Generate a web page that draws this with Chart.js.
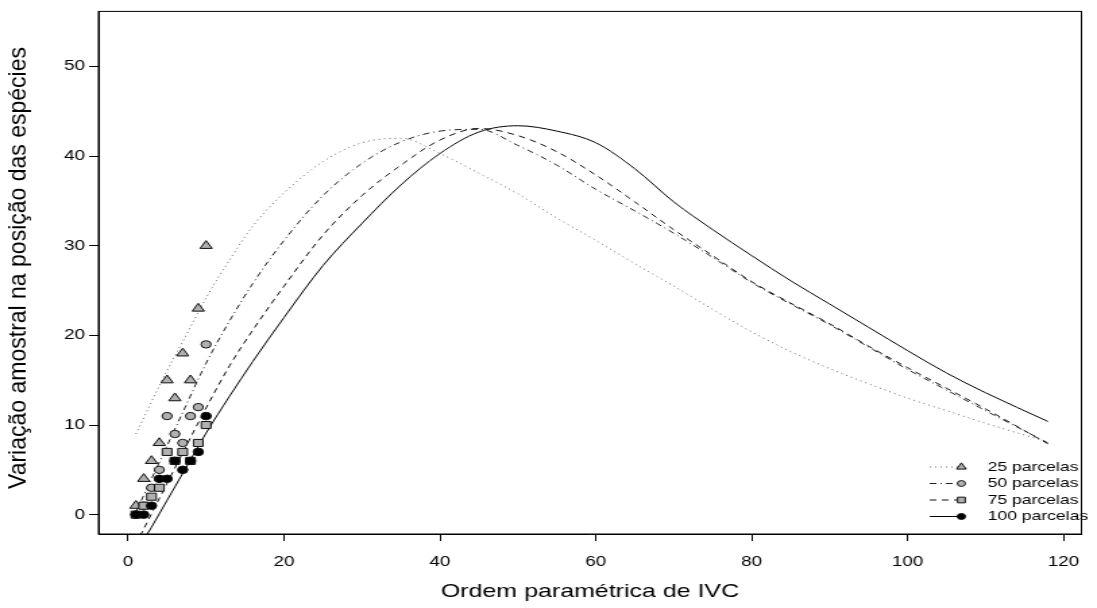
<!DOCTYPE html>
<html lang="pt">
<head>
<meta charset="UTF-8" />
<title>Variação amostral na posição das espécies</title>
<script src="https://cdn.jsdelivr.net/npm/chart.js"></script>
<style>
  html, body { margin: 0; padding: 0; background: #fff; overflow: hidden; }
  /* the original picture is stretched horizontally, so the canvas is too */
  #wrap { width: 813px; height: 608px; transform: scaleX(1.3493); transform-origin: 0 0; }
</style>
</head>
<body>
<div id="wrap"><canvas id="grafico" width="813" height="608"></canvas></div>
<script>
const seriesNames = ['25 parcelas', '50 parcelas', '75 parcelas', '100 parcelas'];
const xTitle = 'Ordem paramétrica de IVC';
const yTitle = 'Variação amostral na posição das espécies';
const xTicks = [0, 20, 40, 60, 80, 100, 120];
const yTicks = [0, 10, 20, 30, 40, 50];

// observed values (first 10 positions)
const pointX = [1, 2, 3, 4, 5, 6, 7, 8, 9, 10];
const obs25  = [1, 4, 6, 8, 15, 13, 18, 15, 23, 30];
const obs50  = [0, 1, 3, 5, 11, 9, 8, 11, 12, 19];
const obs75  = [0, 1, 2, 3, 7, 6, 7, 6, 8, 10];
const obs100 = [0, 0, 1, 4, 4, 6, 5, 6, 7, 11];

// smoothed curves
const curveX   = [1, 3, 5, 7, 10, 13, 16, 20, 25, 30, 35, 40, 45, 50, 55, 60, 65, 70, 75, 80, 85, 90, 95, 100, 105, 110, 118];
const curve25  = [9.0, 12.6, 16.1, 19.3, 24.2, 28.4, 32.2, 35.9, 39.4, 41.5, 42.0, 40.3, 38.1, 35.8, 33.1, 30.6, 28.0, 25.5, 22.9, 20.4, 18.2, 16.3, 14.6, 13.0, 11.6, 10.2, 8.1];
const curve50  = [0.3, 4.0, 7.7, 11.4, 16.9, 21.6, 25.8, 30.6, 35.6, 39.2, 41.6, 42.8, 43.0, 41.2, 39.0, 36.3, 33.9, 31.4, 28.7, 25.9, 23.5, 21.2, 18.7, 16.2, 13.9, 11.6, 8.0];
const curve75  = [-3.3, 0.1, 3.5, 6.9, 11.9, 16.6, 20.6, 25.5, 31.2, 35.6, 39.0, 41.8, 43.1, 42.3, 40.5, 37.9, 34.9, 31.8, 28.9, 26.0, 23.6, 21.3, 18.8, 16.4, 14.1, 11.8, 7.9];
const curve100 = [-4.2, -1.4, 1.6, 4.6, 9.1, 13.2, 17.1, 22.0, 27.8, 32.5, 36.8, 40.3, 42.7, 43.4, 42.8, 41.5, 38.6, 34.9, 31.8, 28.9, 26.1, 23.5, 20.9, 18.3, 15.8, 13.6, 10.4];

const FONT = '"Liberation Sans", Arial, Helvetica, sans-serif';
const toXY = (xs, ys) => xs.map((x, i) => ({ x: x, y: ys[i] }));

function lineSet(label, ys, color, dash, order) {
  return {
    label: label, data: toXY(curveX, ys), showLine: true, pointRadius: 0,
    borderColor: color, borderWidth: 1, borderDash: dash,
    cubicInterpolationMode: 'monotone', fill: false, order: order
  };
}
function pointSet(label, ys, style, radius, fillColor, order) {
  return {
    label: label, data: toXY(pointX, ys), showLine: false, pointStyle: style,
    pointRadius: radius, backgroundColor: fillColor, borderColor: '#111',
    borderWidth: 1, order: order
  };
}

const datasets = [
  lineSet(seriesNames[0], curve25, '#666', [1, 3], 13),
  lineSet(seriesNames[1], curve50, '#222', [5, 3, 1, 3], 12),
  lineSet(seriesNames[2], curve75, '#111', [5, 4], 11),
  lineSet(seriesNames[3], curve100, '#000', [], 10),
  pointSet(seriesNames[0], obs25, 'triangle', 5.2, '#b0b0b0', 3),
  pointSet(seriesNames[1], obs50, 'circle', 3.7, '#b0b0b0', 2),
  pointSet(seriesNames[2], obs75, 'rect', 5, '#b0b0b0', 1),
  pointSet(seriesNames[3], obs100, 'circle', 3.8, '#000', 0)
];

function marker(ctx, style, x, y, r, fill, stroke) {
  ctx.save();
  ctx.fillStyle = fill; ctx.strokeStyle = stroke; ctx.lineWidth = 1;
  ctx.beginPath();
  if (style === 'triangle') {
    ctx.moveTo(x, y - r);
    ctx.lineTo(x + r * 0.866, y + r * 0.5);
    ctx.lineTo(x - r * 0.866, y + r * 0.5);
    ctx.closePath();
  } else if (style === 'rect') {
    const s = r * Math.SQRT1_2;
    ctx.rect(x - s, y - s, 2 * s, 2 * s);
  } else {
    ctx.arc(x, y, r, 0, Math.PI * 2);
  }
  ctx.fill(); ctx.stroke();
  ctx.restore();
}

// frame around the plot region
const boxPlugin = {
  id: 'box',
  afterDatasetsDraw(chart) {
    const a = chart.chartArea, ctx = chart.ctx;
    ctx.save();
    ctx.strokeStyle = '#000'; ctx.lineWidth = 1;
    ctx.strokeRect(a.left, a.top, a.right - a.left, a.bottom - a.top);
    ctx.restore();
  }
};

// y title drawn by hand so it can be narrowed against the page stretch
const yTitlePlugin = {
  id: 'ytitle',
  afterDraw(chart) {
    const ctx = chart.ctx;
    ctx.save();
    ctx.translate(13.5, 268);
    ctx.rotate(-Math.PI / 2);
    ctx.scale(1, 0.8);
    ctx.font = '23px ' + FONT;
    ctx.fillStyle = '#000';
    ctx.textAlign = 'center'; ctx.textBaseline = 'middle';
    ctx.fillText(yTitle, 0, 0);
    ctx.restore();
  }
};

// R-style legend: line sample with marker at its right end
const legendPlugin = {
  id: 'rlegend',
  afterDraw(chart) {
    const ctx = chart.ctx;
    seriesNames.forEach((name, i) => {
      const ln = chart.data.datasets[i], pt = chart.data.datasets[i + 4];
      const y = 467 + i * 16.5;
      ctx.save();
      ctx.strokeStyle = ln.borderColor; ctx.lineWidth = 1;
      ctx.setLineDash(ln.borderDash);
      ctx.beginPath(); ctx.moveTo(689, y); ctx.lineTo(712.5, y); ctx.stroke();
      ctx.setLineDash([]);
      marker(ctx, pt.pointStyle, 712.5, y, pt.pointRadius * 0.8, pt.backgroundColor, pt.borderColor);
      ctx.fillStyle = '#000';
      ctx.font = '13px ' + FONT;
      ctx.textBaseline = 'middle'; ctx.textAlign = 'left';
      ctx.fillText(name, 732, y);
      ctx.restore();
    });
  }
};

new Chart(document.getElementById('grafico'), {
  type: 'scatter',
  data: { datasets: datasets },
  options: {
    responsive: false,
    animation: false,
    devicePixelRatio: 1,
    layout: { padding: { top: 10, right: 1.5, bottom: 0, left: 0 } },
    plugins: { legend: { display: false }, tooltip: { enabled: false } },
    scales: {
      x: {
        type: 'linear', min: -3.8, max: 122.3,
        afterBuildTicks: s => { s.ticks = xTicks.map(v => ({ value: v })); },
        afterFit: s => { s.height = 74; },
        ticks: { color: '#000', font: { size: 14, family: FONT }, padding: 13, maxRotation: 0, autoSkip: false },
        grid: { display: true, drawOnChartArea: false, drawTicks: true, tickLength: 7, color: '#000', tickColor: '#000' },
        border: { display: true, color: '#000', width: 1 },
        title: { display: true, text: xTitle, color: '#000',
                 font: { size: 18.5, family: FONT }, padding: { top: 0, bottom: 5 } }
      },
      y: {
        type: 'linear', min: -2.16, max: 56.16,
        afterBuildTicks: s => { s.ticks = yTicks.map(v => ({ value: v })); },
        afterFit: s => { s.width = 73; },
        ticks: { color: '#000', font: { size: 14, family: FONT }, padding: 3, autoSkip: false },
        grid: { display: true, drawOnChartArea: false, drawTicks: true, tickLength: 7, color: '#000', tickColor: '#000' },
        border: { display: true, color: '#000', width: 1 },
        title: { display: false }
      }
    }
  },
  plugins: [boxPlugin, yTitlePlugin, legendPlugin]
});
</script>
</body>
</html>
